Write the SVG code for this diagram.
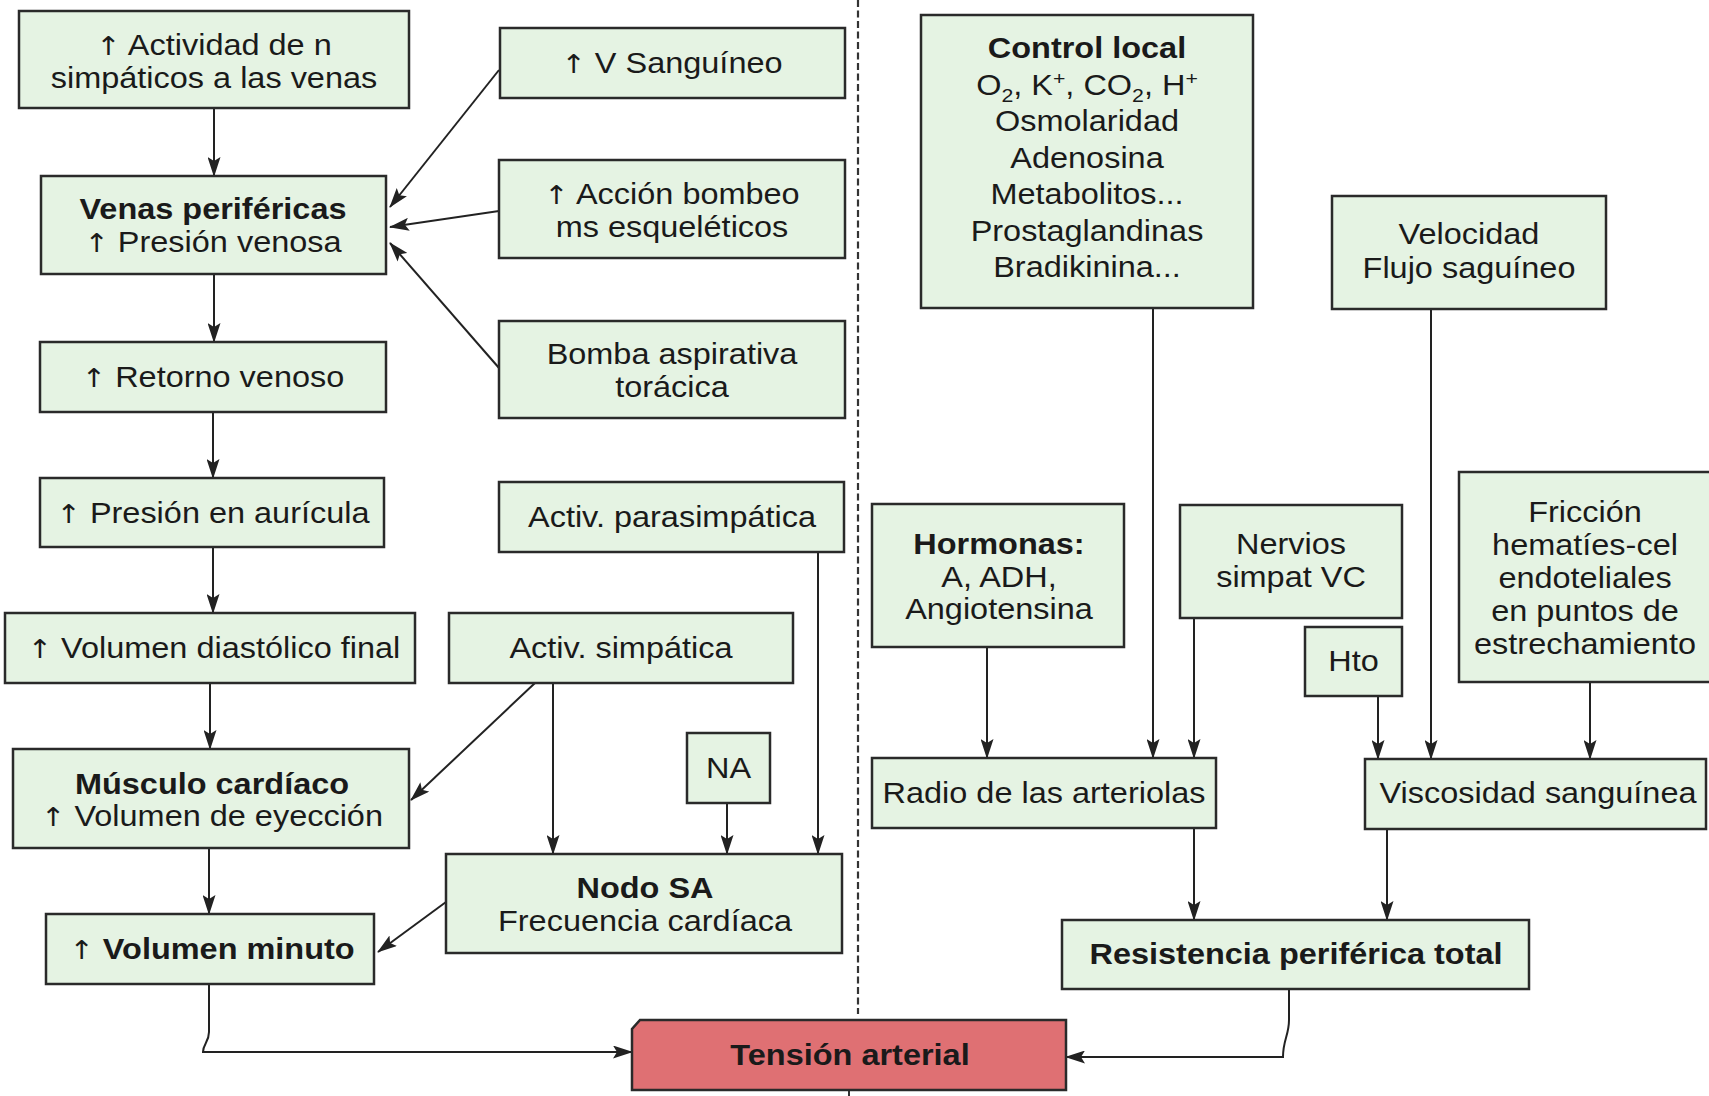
<svg xmlns="http://www.w3.org/2000/svg" width="1709" height="1096" viewBox="0 0 1709 1096">
<defs>
<style>
.box{fill:#e5f3e3;stroke:#2a2a2a;stroke-width:2.5}
.red{fill:#df7073;stroke:#2a2a2a;stroke-width:2.5}
.t{font-family:"Liberation Sans",Arial,Helvetica,sans-serif;font-size:29px;fill:#1a1a1a;text-anchor:middle}
.b{font-weight:bold}
.s{font-size:19px}
.ar{font-family:"DejaVu Sans",sans-serif;font-weight:normal;font-size:26px}
.c{fill:none;stroke:#222;stroke-width:2;marker-end:url(#ah)}
.dash{fill:none;stroke:#333;stroke-width:2.2;stroke-dasharray:7 3.5}
</style>
<marker id="ah" markerUnits="userSpaceOnUse" markerWidth="20" markerHeight="13" refX="19" refY="6.5" orient="auto">
<path d="M0,0 L20,6.5 L0,13 L4,6.5 z" fill="#222"/>
</marker>
</defs>
<rect width="1709" height="1096" fill="#ffffff"/>

<g id="divider">
<path class="dash" d="M858,0 V1014"/>
<path d="M849,1090 V1096" stroke="#333" stroke-width="2"/>
</g>

<g id="connectors">
<path class="c" d="M214,108 V176"/>
<path class="c" d="M214,274 V342"/>
<path class="c" d="M213,412 V478"/>
<path class="c" d="M213,547 V613"/>
<path class="c" d="M210,683 V749"/>
<path class="c" d="M209,848 V914"/>
<path class="c" d="M499,70 L390,207"/>
<path class="c" d="M499,211 L390,227"/>
<path class="c" d="M499,368 L390,243"/>
<path class="c" d="M535,683 L411,800"/>
<path class="c" d="M553,683 V854"/>
<path class="c" d="M727,803 V854"/>
<path class="c" d="M818,552 V854"/>
<path class="c" d="M446,902 L378,952"/>
<path class="c" d="M209,984 V1032 C209,1042 203,1044 203,1052 H632"/>
<path class="c" d="M1153,308 V758"/>
<path class="c" d="M987,647 V758"/>
<path class="c" d="M1194,618 V758"/>
<path class="c" d="M1378,696 V759"/>
<path class="c" d="M1431,309 V759"/>
<path class="c" d="M1590,682 V759"/>
<path class="c" d="M1194,828 V920"/>
<path class="c" d="M1387,829 V920"/>
<path class="c" d="M1289,989 V1020 C1289,1035 1283,1040 1283,1057 H1066"/>
</g>

<g id="actividad-n-simpaticos">
<rect class="box" x="19" y="11" width="390" height="97"/>
<text class="t" transform="matrix(1.12 0 0 1 214 0)"><tspan x="0" y="55"><tspan class="ar">↑</tspan> Actividad de n</tspan><tspan x="0" y="88">simpáticos a las venas</tspan></text>
</g>
<g id="v-sanguineo">
<rect class="box" x="500" y="28" width="345" height="70"/>
<text class="t" transform="matrix(1.12 0 0 1 672 0)"><tspan x="0" y="73"><tspan class="ar">↑</tspan> V Sanguíneo</tspan></text>
</g>
<g id="venas-perifericas">
<rect class="box" x="41" y="176" width="345" height="98"/>
<text class="t" transform="matrix(1.12 0 0 1 213 0)"><tspan x="0" y="219" class="b">Venas periféricas</tspan><tspan x="0" y="252"><tspan class="ar">↑</tspan> Presión venosa</tspan></text>
</g>
<g id="accion-bombeo">
<rect class="box" x="499" y="160" width="346" height="98"/>
<text class="t" transform="matrix(1.12 0 0 1 672 0)"><tspan x="0" y="204"><tspan class="ar">↑</tspan> Acción bombeo</tspan><tspan x="0" y="237">ms esqueléticos</tspan></text>
</g>
<g id="bomba-aspirativa">
<rect class="box" x="499" y="321" width="346" height="97"/>
<text class="t" transform="matrix(1.12 0 0 1 672 0)"><tspan x="0" y="364">Bomba aspirativa</tspan><tspan x="0" y="397">torácica</tspan></text>
</g>
<g id="retorno-venoso">
<rect class="box" x="40" y="342" width="346" height="70"/>
<text class="t" transform="matrix(1.12 0 0 1 213 0)"><tspan x="0" y="387"><tspan class="ar">↑</tspan> Retorno venoso</tspan></text>
</g>
<g id="presion-auricula">
<rect class="box" x="40" y="478" width="344" height="69"/>
<text class="t" transform="matrix(1.12 0 0 1 213 0)"><tspan x="0" y="523"><tspan class="ar">↑</tspan> Presión en aurícula</tspan></text>
</g>
<g id="activ-parasimpatica">
<rect class="box" x="499" y="482" width="345" height="70"/>
<text class="t" transform="matrix(1.12 0 0 1 672 0)"><tspan x="0" y="527">Activ. parasimpática</tspan></text>
</g>
<g id="volumen-diastolico">
<rect class="box" x="5" y="613" width="410" height="70"/>
<text class="t" transform="matrix(1.12 0 0 1 214 0)"><tspan x="0" y="658"><tspan class="ar">↑</tspan> Volumen diastólico final</tspan></text>
</g>
<g id="activ-simpatica">
<rect class="box" x="449" y="613" width="344" height="70"/>
<text class="t" transform="matrix(1.12 0 0 1 621 0)"><tspan x="0" y="658">Activ. simpática</tspan></text>
</g>
<g id="na">
<rect class="box" x="687" y="733" width="83" height="70"/>
<text class="t" transform="matrix(1.12 0 0 1 728.5 0)"><tspan x="0" y="778">NA</tspan></text>
</g>
<g id="musculo-cardiaco">
<rect class="box" x="13" y="749" width="396" height="99"/>
<text class="t" transform="matrix(1.12 0 0 1 212 0)"><tspan x="0" y="794" class="b">Músculo cardíaco</tspan><tspan x="0" y="826"><tspan class="ar">↑</tspan> Volumen de eyección</tspan></text>
</g>
<g id="nodo-sa">
<rect class="box" x="446" y="854" width="396" height="99"/>
<text class="t" transform="matrix(1.12 0 0 1 645 0)"><tspan x="0" y="898" class="b">Nodo SA</tspan><tspan x="0" y="931">Frecuencia cardíaca</tspan></text>
</g>
<g id="volumen-minuto">
<rect class="box" x="46" y="914" width="328" height="70"/>
<text class="t" transform="matrix(1.12 0 0 1 212 0)"><tspan x="0" y="959"><tspan class="ar">↑</tspan> <tspan class="b">Volumen minuto</tspan></tspan></text>
</g>
<g id="tension-arterial">
<path class="red" d="M640,1020 H1066 V1090 H632 V1029 Z"/>
<text class="t b" transform="matrix(1.12 0 0 1 850 0)"><tspan x="0" y="1065">Tensión arterial</tspan></text>
</g>

<g id="control-local">
<rect class="box" x="921" y="15" width="332" height="293"/>
<text class="t" transform="matrix(1.12 0 0 1 1087 0)"><tspan x="0" y="58" class="b">Control local</tspan><tspan x="0" y="95">O<tspan class="s" dy="7">2</tspan><tspan dy="-7">, K</tspan><tspan class="s" dy="-10">+</tspan><tspan dy="10">, CO</tspan><tspan class="s" dy="7">2</tspan><tspan dy="-7">, H</tspan><tspan class="s" dy="-10">+</tspan></tspan><tspan x="0" y="131">Osmolaridad</tspan><tspan x="0" y="168">Adenosina</tspan><tspan x="0" y="204">Metabolitos...</tspan><tspan x="0" y="241">Prostaglandinas</tspan><tspan x="0" y="277">Bradikinina...</tspan></text>
</g>
<g id="velocidad-flujo">
<rect class="box" x="1332" y="196" width="274" height="113"/>
<text class="t" transform="matrix(1.12 0 0 1 1469 0)"><tspan x="0" y="244">Velocidad</tspan><tspan x="0" y="278">Flujo saguíneo</tspan></text>
</g>
<g id="hormonas">
<rect class="box" x="872" y="504" width="252" height="143"/>
<text class="t" transform="matrix(1.12 0 0 1 999 0)"><tspan x="0" y="554" class="b">Hormonas:</tspan><tspan x="0" y="587">A, ADH,</tspan><tspan x="0" y="619">Angiotensina</tspan></text>
</g>
<g id="nervios-simpat">
<rect class="box" x="1180" y="505" width="222" height="113"/>
<text class="t" transform="matrix(1.12 0 0 1 1291 0)"><tspan x="0" y="554">Nervios</tspan><tspan x="0" y="587">simpat VC</tspan></text>
</g>
<g id="hto">
<rect class="box" x="1305" y="627" width="97" height="69"/>
<text class="t" transform="matrix(1.12 0 0 1 1353.5 0)"><tspan x="0" y="671">Hto</tspan></text>
</g>
<g id="friccion">
<rect class="box" x="1459" y="472" width="262" height="210"/>
<text class="t" transform="matrix(1.12 0 0 1 1585 0)"><tspan x="0" y="522">Fricción</tspan><tspan x="0" y="555">hematíes-cel</tspan><tspan x="0" y="588">endoteliales</tspan><tspan x="0" y="621">en puntos de</tspan><tspan x="0" y="654">estrechamiento</tspan></text>
</g>
<g id="radio-arteriolas">
<rect class="box" x="872" y="758" width="344" height="70"/>
<text class="t" transform="matrix(1.12 0 0 1 1044 0)"><tspan x="0" y="803">Radio de las arteriolas</tspan></text>
</g>
<g id="viscosidad">
<rect class="box" x="1365" y="759" width="341" height="70"/>
<text class="t" transform="matrix(1.12 0 0 1 1538 0)"><tspan x="0" y="803">Viscosidad sanguínea</tspan></text>
</g>
<g id="resistencia">
<rect class="box" x="1062" y="920" width="467" height="69"/>
<text class="t b" transform="matrix(1.12 0 0 1 1296 0)"><tspan x="0" y="964">Resistencia periférica total</tspan></text>
</g>
</svg>
